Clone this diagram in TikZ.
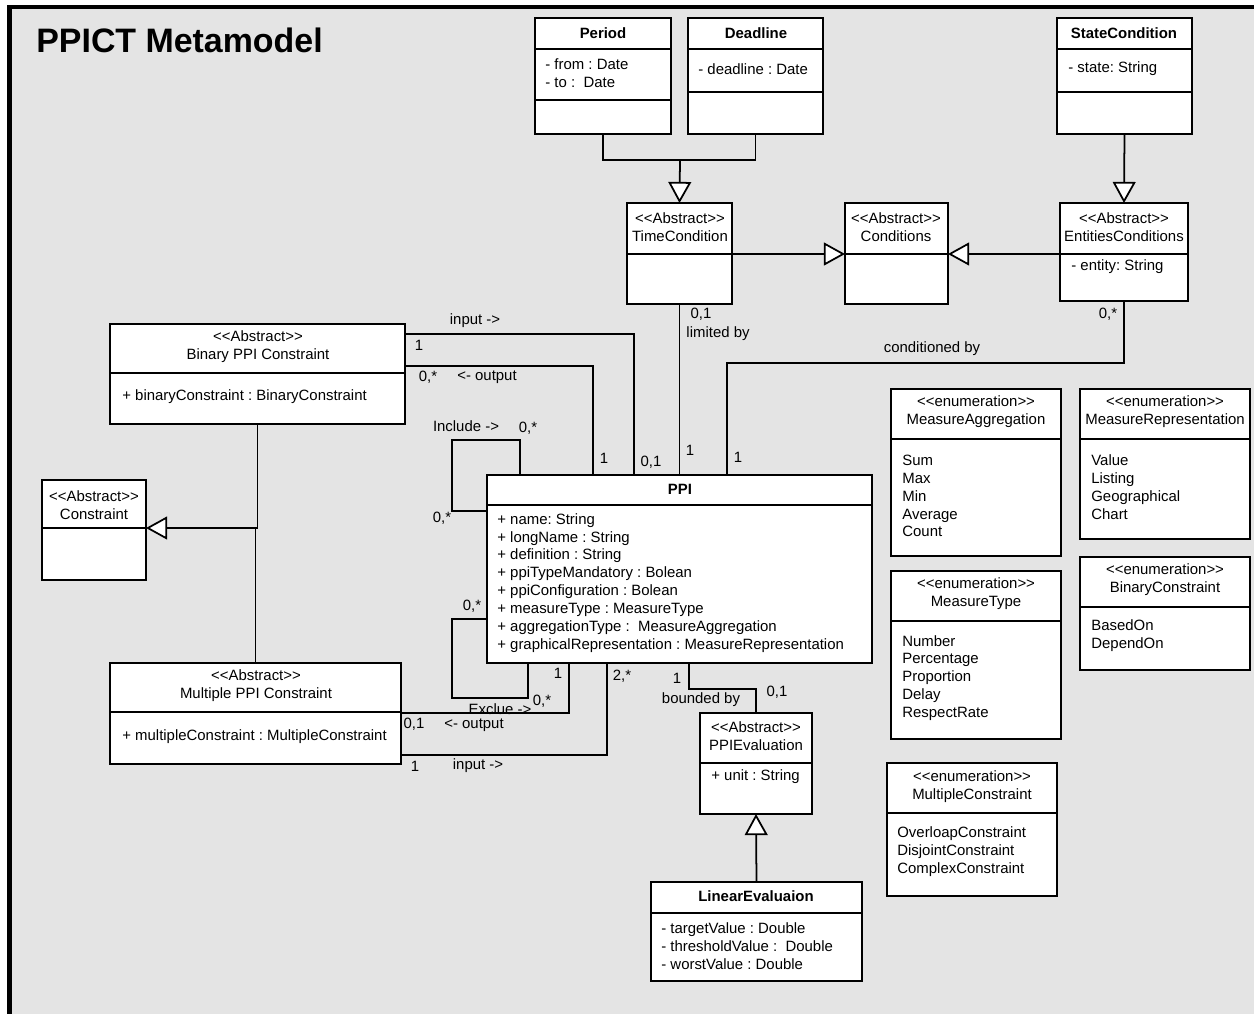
\documentclass[tikz,border=0pt]{standalone}
\usepackage{fontspec}
\setmainfont{Liberation Sans}
\usetikzlibrary{arrows.meta,fit}

\definecolor{canvas}{HTML}{E4E4E4}

\tikzset{
  classbox/.style={draw, fill=white, line width=1pt, inner sep=0pt, outer sep=0pt},
  head/.style={align=center, inner sep=0pt},
  boldhead/.style={inner sep=0pt, font=\fontsize{8.5}{10.2}\selectfont\bfseries},
  attrs/.style={align=left, anchor=west, inner sep=0pt},
  lbl/.style={inner sep=0pt},
  assoc/.style={line width=1pt},
  gen/.style={line width=1pt, -{Triangle[fill=white,length=12pt,width=13pt]}},
}

% a class box between two corners, with its compartment lines
\newcommand{\umlclass}[4]{%
  \node[classbox, fit={(#2) (#3)}] (#1) {};
  \foreach \dy in {#4} {\draw[line width=1pt] (#1.west |- 0,\dy) -- (#1.east |- 0,\dy);}
}
\newcommand{\stereo}[1]{<\kern0pt<#1>\kern0pt>}

\begin{document}
\frenchspacing
\begin{tikzpicture}[x=0.02cm, y=-0.02cm, font=\fontsize{8.5}{10.2}\selectfont]
	\useasboundingbox (0,0) rectangle (1254,1014);
	\clip (0,0) rectangle (1254,1014);
	\fill[canvas] (9.5,7) rectangle (1300,1100);
	\draw[line width=2.3pt] (9.5,1100) -- (9.5,7) -- (1300,7);

	\node[anchor=base west, inner sep=0pt, font=\fontsize{19.3}{22}\selectfont\bfseries] (title) at (36,52) {PPICT Metamodel};

	% conditions
	\umlclass{period}{535,18}{671,134}{49,100}
	\umlclass{deadline}{688,18}{823,134}{49,92}
	\umlclass{statecond}{1057,18}{1192,134}{49,92}
	\umlclass{timecond}{627,203}{732,304}{254}
	\umlclass{cond}{845,203}{948,304}{254}
	\umlclass{entcond}{1060,203}{1188,301}{254}

	% constraints
	\umlclass{binary}{110,324}{405,424}{373}
	\umlclass{constraint}{42,480}{146,580}{528}
	\umlclass{multiple}{110,663}{401,764}{712}

	% ppi and evaluation
	\umlclass{ppi}{487,475}{872,663}{505}
	\umlclass{ppieval}{700,713}{812,814}{763}
	\umlclass{linear}{651,882}{862,981}{913}

	% enumerations
	\umlclass{aggr}{891,389}{1061,556}{439}
	\umlclass{repr}{1080,389}{1250,539}{439}
	\umlclass{mtype}{891,571}{1061,739}{621}
	\umlclass{binenum}{1080,557}{1250,670}{607}
	\umlclass{multenum}{887,763}{1057,896}{813}

	% generalisations
	\coordinate (tjoin) at (680,160);
	\draw[assoc] (period.south) |- (tjoin) -| (deadline.south);
	\draw[gen] (tjoin) -- (timecond.north);
	\draw[gen] (statecond.south) -- (entcond.north);
	\draw[gen] (timecond.east |- 0,254) -- (cond.west |- 0,254);
	\draw[gen] (entcond.west |- 0,254) -- (cond.east |- 0,254);
	\coordinate (cjoin) at (257,528);
	\draw[assoc] (binary.south) -- (binary.south |- cjoin) -- (multiple.north |- cjoin) -- (multiple.north);
	\draw[gen] (binary.south |- cjoin) -- (constraint.east |- cjoin);
	\draw[gen] (linear.north) -- (ppieval.south);

	% associations
	\draw[assoc] (binary.east |- 0,334) -| (ppi.north -| 634,0);
	\draw[assoc] (binary.east |- 0,366) -| (ppi.north -| 593,0);
	\draw[assoc] (ppi.north -| 520,0) |- (452,440) |- (ppi.west |- 0,511);
	\draw[assoc] (timecond.south) -- (ppi.north -| timecond.south);
	\coordinate (condbend) at (727,363);
	\draw[assoc] (entcond.south) |- (condbend) -- (ppi.north -| condbend);
	\draw[assoc] (ppi.west |- 0,619) -| (452,698) -| (ppi.south -| 528,0);
	\draw[assoc] (multiple.east |- 0,713) -| (ppi.south -| 569,0);
	\draw[assoc] (multiple.east |- 0,755) -| (ppi.south -| 607,0);
	\draw[assoc] (ppi.south -| 689,0) |- (ppieval.north |- 0,689) -- (ppieval.north);

	% class texts
	\node[boldhead] (periodname) at (603,33) {Period};
	\node[attrs] (periodattr) at (545,73) {- from : Date\\- to :~ Date};
	\node[boldhead] (deadlinename) at (756,33) {Deadline};
	\node[attrs] (deadlineattr) at (698,69) {- deadline : Date};
	\node[boldhead] (statename) at (1124,33) {StateCondition};
	\node[attrs] (stateattr) at (1068,69) {- state: String};
	\node[head] (timename) at (680,227) {\stereo{Abstract}\\TimeCondition};
	\node[head] (condname) at (896,227) {\stereo{Abstract}\\Conditions};
	\node[head] (entname) at (1124,227) {\stereo{Abstract}\\EntitiesConditions};
	\node[attrs] (entattr) at (1071,267) {- entity: String};

	\node[head] (binaryname) at (258,347) {\stereo{Abstract}\\Binary PPI Constraint};
	\node[attrs] (binaryattr) at (122,397) {+ binaryConstraint : BinaryConstraint};
	\node[head] (constrname) at (94,505) {\stereo{Abstract}\\Constraint};
	\node[head] (multname) at (256,686) {\stereo{Abstract}\\Multiple PPI Constraint};
	\node[attrs] (multattr) at (122,737) {+ multipleConstraint : MultipleConstraint};

	\node[boldhead] (ppiname) at (680,489) {PPI};
	\node[attrs] (ppiattr) at (497,583) {+ name: String\\+ longName : String\\+ definition : String\\+ ppiTypeMandatory : Bolean\\+ ppiConfiguration : Bolean\\+ measureType : MeasureType\\+ aggregationType :~ MeasureAggregation\\+ graphicalRepresentation : MeasureRepresentation};
	\node[head] (evalname) at (756,736) {\stereo{Abstract}\\PPIEvaluation};
	\node[attrs] (evalattr) at (711,777) {+ unit : String};
	\node[boldhead] (linearname) at (756,896) {LinearEvaluaion};
	\node[attrs] (linearattr) at (661,946) {- targetValue : Double\\- thresholdValue :~ Double\\- worstValue : Double};

	\node[head] (aggrname) at (976,412) {\stereo{enumeration}\\MeasureAggregation};
	\node[attrs] (aggritems) at (902,496) {Sum\\Max\\Min\\Average\\Count};
	\node[head] (reprname) at (1165,412) {\stereo{enumeration}\\MeasureRepresentation};
	\node[attrs] (repritems) at (1091,487) {Value\\Listing\\Geographical\\Chart};
	\node[head] (mtypename) at (976,594) {\stereo{enumeration}\\MeasureType};
	\node[attrs] (mtypeitems) at (902,678) {Number\\Percentage\\Proportion\\Delay\\RespectRate};
	\node[head] (binenumname) at (1165,580) {\stereo{enumeration}\\BinaryConstraint};
	\node[attrs] (binenumitems) at (1091,636) {BasedOn\\DependOn};
	\node[head] (multenumname) at (972,787) {\stereo{enumeration}\\MultipleConstraint};
	\node[attrs] (multenumitems) at (897,852) {OverloapConstraint\\DisjointConstraint\\ComplexConstraint};

	% association labels
	\node[lbl] (bininlbl) at (475,321) {input ->};
	\node[lbl] (bininsrc) at (419,345) {1};
	\node[lbl] (binoutsrc) at (428,377) {0,*};
	\node[lbl] (binoutlbl) at (487,377) {<- output};
	\node[lbl] (binoutdst) at (604,458) {1};
	\node[lbl] (binindst) at (651,462) {0,1};
	\node[lbl] (inclbl) at (466,426) {Include ->};
	\node[lbl] (incsrc) at (528,428) {0,*};
	\node[lbl] (incdst) at (442,518) {0,*};
	\node[lbl] (limsrc) at (701,314) {0,1};
	\node[lbl] (limlbl) at (718,334) {limited by};
	\node[lbl] (limdst) at (690,450) {1};
	\node[lbl] (consrc) at (1108,314) {0,*};
	\node[lbl] (conlbl) at (932,349) {conditioned by};
	\node[lbl] (condst) at (738,457) {1};
	\node[lbl] (excsrc) at (472,606) {0,*};
	\node[lbl] (exclbl) at (500,709) {Exclue ->};
	\node[lbl] (excdst) at (542,701) {0,*};
	\node[lbl] (muloutdst) at (558,673) {1};
	\node[lbl] (muloutsrc) at (414,724) {0,1};
	\node[lbl] (muloutlbl) at (474,725) {<- output};
	\node[lbl] (mulinsrc) at (415,766) {1};
	\node[lbl] (mulinlbl) at (478,766) {input ->};
	\node[lbl] (mulindst) at (622,676) {2,*};
	\node[lbl] (bndsrc) at (677,678) {1};
	\node[lbl] (bndlbl) at (701,700) {bounded by};
	\node[lbl] (bnddst) at (777,692) {0,1};
\end{tikzpicture}
\end{document}
